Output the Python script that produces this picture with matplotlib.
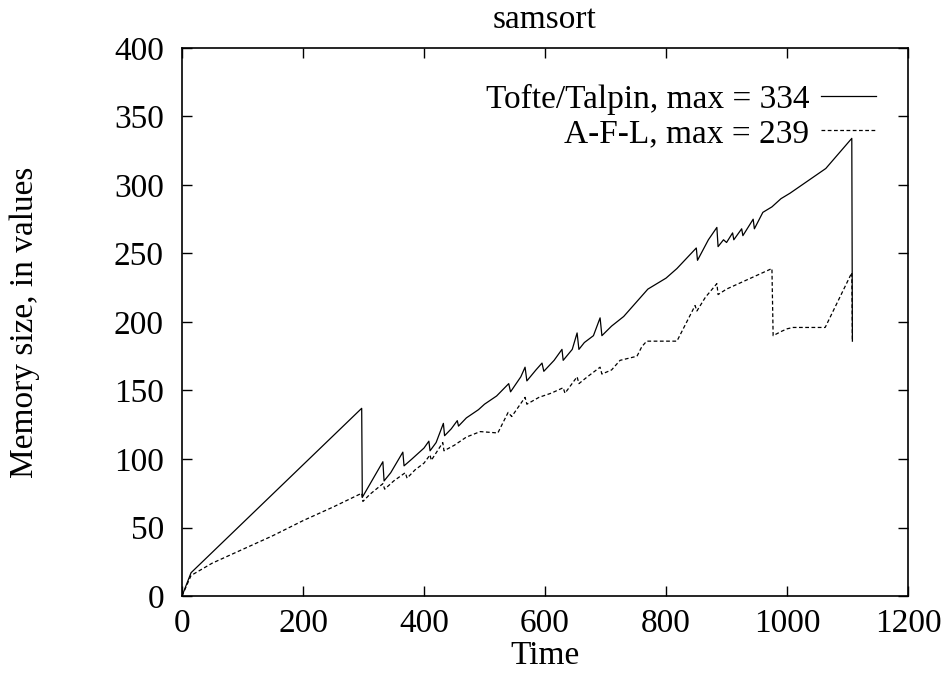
import matplotlib
matplotlib.use("Agg")
import matplotlib.pyplot as plt

#%% data
tofte_t = [0, 15, 297, 298, 332, 334, 345, 365, 367, 380, 400, 408, 410, 420, 432, 434,
           445, 455, 457, 470, 490, 500, 520, 540, 543, 560, 567, 570, 585, 595, 598,
           615, 628, 630, 645, 653, 656, 665, 680, 691, 694, 710, 730, 750, 770, 800,
           818, 850, 852, 870, 884, 886, 895, 900, 910, 912, 925, 927, 944, 946, 960,
           975, 990, 1005, 1064, 1107, 1108]
tofte_v = [0, 17, 137, 72, 98, 84, 90, 105, 95, 100, 108, 113, 106, 112, 126, 117,
           122, 128, 124, 130, 136, 140, 146, 155, 149, 160, 167, 157, 165, 170, 164,
           172, 180, 172, 180, 192, 180, 185, 190, 203, 190, 197, 204, 214, 224, 232,
           239, 254, 245, 260, 269, 255, 260, 258, 265, 260, 268, 263, 275, 268, 280,
           284, 290, 294, 312, 334, 186]

afl_t = [0, 15, 50, 100, 150, 200, 250, 297, 299, 310, 332, 335, 350, 369, 372, 385,
         400, 410, 412, 431, 433, 450, 470, 493, 522, 539, 545, 567, 570, 590, 610,
         630, 633, 653, 656, 670, 691, 694, 710, 724, 752, 760, 768, 818, 848, 851,
         865, 884, 886, 900, 920, 940, 960, 975, 977, 990, 1000, 1010, 1063, 1107, 1108]
afl_v = [0, 15, 24, 34, 44, 55, 65, 75, 69, 74, 82, 78, 84, 90, 86, 92,
         97, 103, 99, 112, 106, 110, 116, 120, 119, 134, 131, 145, 140, 145, 148,
         152, 148, 160, 155, 160, 167, 162, 165, 172, 175, 182, 186, 186, 212, 208,
         218, 228, 220, 224, 228, 232, 236, 239, 190, 193, 195, 196, 196, 236, 186]

x_ticks = [0, 200, 400, 600, 800, 1000, 1200]
y_ticks = [0, 50, 100, 150, 200, 250, 300, 350, 400]

#%% plot
plt.rcParams['font.family'] = ['Liberation Serif', 'DejaVu Serif']
plt.rcParams['font.size'] = 24

fig = plt.figure(figsize=(9.41, 6.75), dpi=100)
ax = fig.add_axes([0.1934, 0.117, 0.7716, 0.812])

ax.plot(tofte_t, tofte_v, color='black', lw=0.9, label='Tofte/Talpin, max = 334')
ax.plot(afl_t, afl_v, color='black', lw=0.9, linestyle=(0, (3, 2)), label='A-F-L, max = 239')

ax.set_xlim(0, 1200)
ax.set_ylim(0, 400)
ax.set_xticks(x_ticks)
ax.set_yticks(y_ticks)
ax.tick_params(direction='in', length=7, width=1, top=True, right=True)
ax.tick_params(axis='x', pad=9)
ax.tick_params(axis='y', pad=13)
for s in ax.spines.values():
    s.set_linewidth(1.2)

ax.set_title('samsort', fontsize=24, pad=14)
ax.set_xlabel('Time', labelpad=1)
ax.set_ylabel('Memory size, in values')
ax.yaxis.set_label_coords(-0.196, 0.5)

ax.legend(loc='upper right', bbox_to_anchor=(1.008, 1.004), frameon=False,
          markerfirst=False, handlelength=1.65, labelspacing=0.1,
          borderaxespad=0.75, handletextpad=0.34)

fig.savefig('out.png', dpi=100)
